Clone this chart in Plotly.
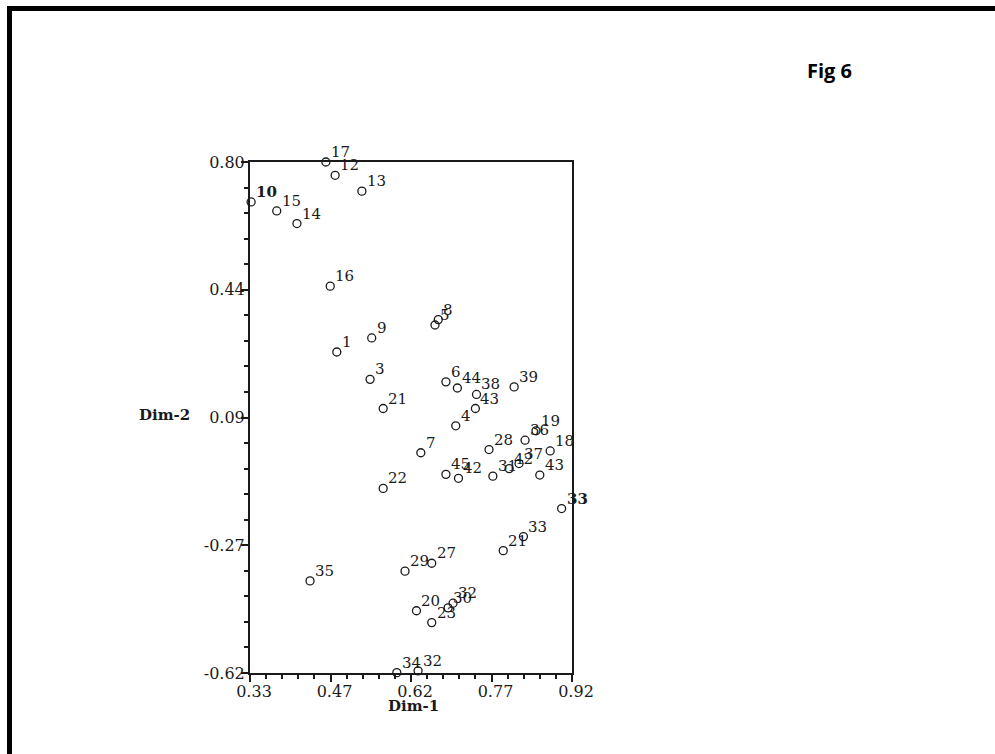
import plotly.graph_objects as go

# ---- data ----
labels = ["1", "3", "4", "6", "7", "8", "5", "9", "<b>10</b>", "12", "13", "14", "15", "16", "17",
          "18", "19", "36", "20", "21", "21", "22", "23", "24", "27", "28", "29", "30", "32",
          "32", "33", "<b>33</b>", "34", "35", "38", "39", "43", "43", "44", "45", "42", "31",
          "42", "37"]
dim1 = [0.489, 0.550, 0.707, 0.689, 0.643, 0.675, 0.669, 0.553, 0.332, 0.486, 0.535, 0.416,
        0.379, 0.477, 0.469, 0.880, 0.854, 0.834, 0.635, 0.574, 0.794, 0.574, 0.663, 0.921,
        0.663, 0.768, 0.614, 0.693, 0.702, 0.638, 0.831, 0.901, 0.599, 0.440, 0.745, 0.814,
        0.743, 0.861, 0.710, 0.689, 0.712, 0.775, 0.805, 0.823]
dim2 = [0.272, 0.196, 0.067, 0.189, -0.008, 0.362, 0.347, 0.311, 0.689, 0.763, 0.719, 0.629,
        0.664, 0.455, 0.800, -0.003, 0.053, 0.027, -0.447, 0.115, -0.280, -0.107, -0.480, 0.040,
        -0.315, 0.001, -0.337, -0.439, -0.426, -0.614, -0.241, -0.163, -0.619, -0.364, 0.154,
        0.175, 0.115, -0.070, 0.172, -0.068, -0.079, -0.073, -0.052, -0.038]

x_tickvals = [0.33, 0.4775, 0.625, 0.7725, 0.92]
x_ticktext = ["0.33", "0.47", "0.62", "0.77", "0.92"]
y_tickvals = [0.80, 0.445, 0.09, -0.265, -0.62]
y_ticktext = ["0.80", "0.44", "0.09", "-0.27", "-0.62"]

FONT = "DejaVu Serif"
INK = "#1a1a1a"

fig = go.Figure()
fig.add_trace(go.Scatter(
    x=dim1, y=dim2, mode="markers",
    marker=dict(symbol="circle-open", size=8, color=INK, line=dict(width=1.3, color=INK)),
    cliponaxis=False, showlegend=False, hoverinfo="skip",
))

W, H = 995, 754
L, R, T, B = 250, 572, 162, 673


def px(xp):
    return (xp - L) / (R - L)


def py(yp):
    return (B - yp) / (B - T)


annotations = [
    dict(text=lab, x=xv, y=yv, xref="x", yref="y", xanchor="left", yanchor="bottom",
         xshift=3, yshift=-1, showarrow=False,
         font=dict(family=FONT, size=15, color=INK))
    for lab, xv, yv in zip(labels, dim1, dim2)
]
annotations += [
    dict(text="<b>Fig 6</b>", x=px(805), y=py(71), xref="paper", yref="paper",
         xanchor="left", yanchor="middle", showarrow=False,
         font=dict(family="Open Sans", size=20, color="black")),
    dict(text="<b>Dim-2</b>", x=px(164), y=py(415), xref="paper", yref="paper",
         xanchor="center", yanchor="middle", showarrow=False,
         font=dict(family=FONT, size=15, color=INK)),
    dict(text="<b>Dim-1</b>", x=px(413), y=py(706), xref="paper", yref="paper",
         xanchor="center", yanchor="middle", showarrow=False,
         font=dict(family=FONT, size=15, color=INK)),
]

axis_common = dict(
    showgrid=False, zeroline=False, showline=True, linecolor=INK, linewidth=2,
    mirror=True, ticks="outside", tickcolor=INK, tickwidth=1.5, ticklen=7,
    tickfont=dict(family=FONT, size=16, color=INK),
)

fig.update_layout(
    width=W, height=H,
    margin=dict(l=L, r=W - R, t=T, b=H - B, pad=0),
    paper_bgcolor="white", plot_bgcolor="white",
    xaxis=dict(range=[0.33, 0.92], tickmode="array", tickvals=x_tickvals, ticktext=x_ticktext,
               ticklabelstandoff=-4, ticklabelshift=4,
               minor=dict(tickmode="linear", tick0=0.33, dtick=0.0295, ticks="outside",
                          ticklen=4, tickcolor=INK, tickwidth=1.5),
               **axis_common),
    yaxis=dict(range=[-0.62, 0.80], tickmode="array", tickvals=y_tickvals, ticktext=y_ticktext,
               ticklabelstandoff=-7,
               minor=dict(tickmode="linear", tick0=-0.62, dtick=0.071, ticks="outside",
                          ticklen=4, tickcolor=INK, tickwidth=1.5),
               **axis_common),
    shapes=[
        dict(type="line", xref="paper", yref="paper", x0=px(9.5), x1=px(995), y0=py(8.5), y1=py(8.5),
             line=dict(color="black", width=5)),
        dict(type="line", xref="paper", yref="paper", x0=px(9.5), x1=px(9.5), y0=py(6), y1=py(754),
             line=dict(color="black", width=5)),
    ],
    annotations=annotations,
)

fig.write_html("out.html")
